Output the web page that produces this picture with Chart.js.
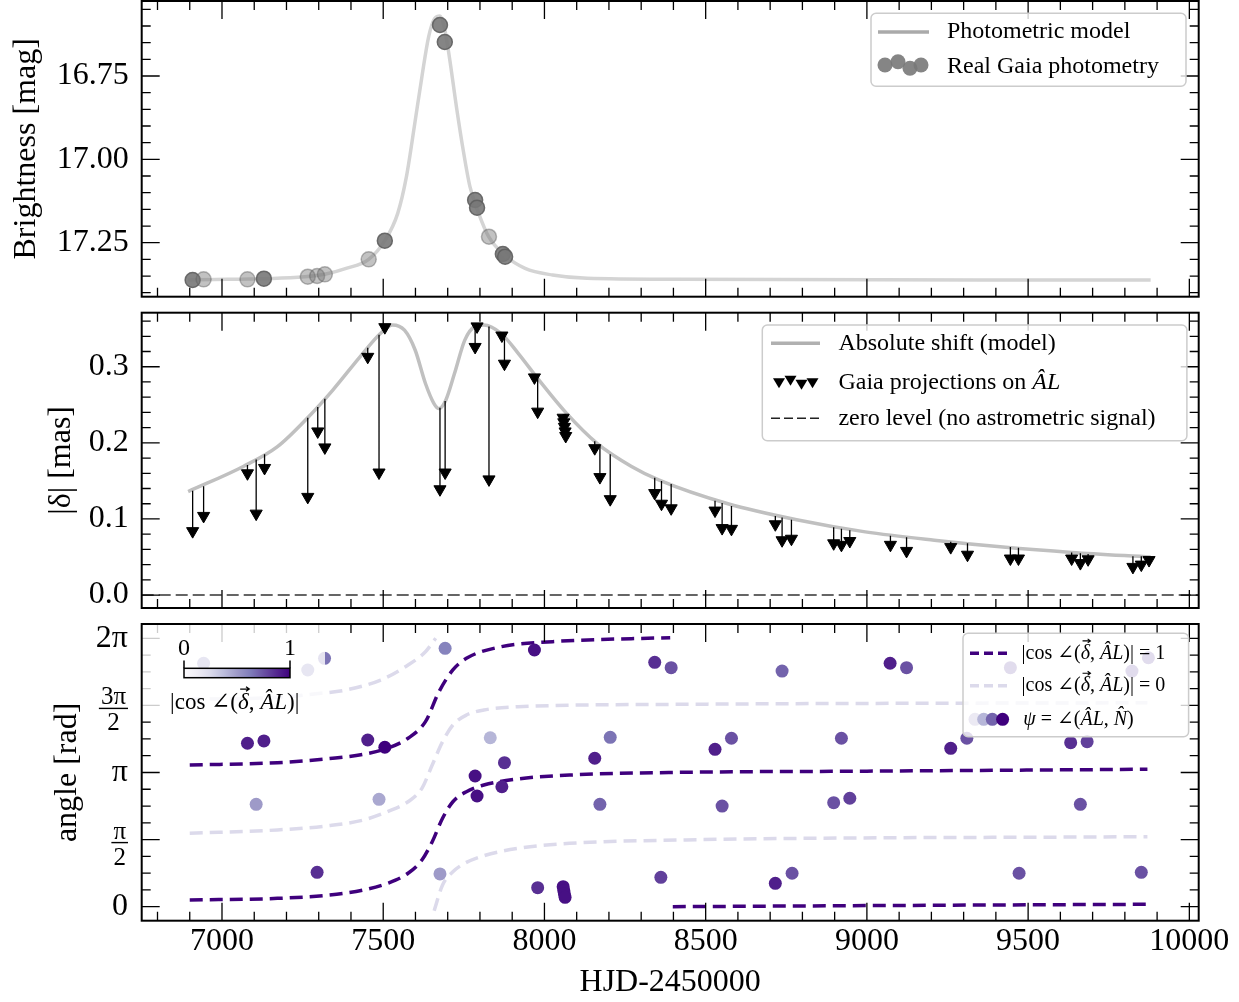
<!DOCTYPE html>
<html lang="en">
<head>
<meta charset="UTF-8">
<title>Microlensing event: photometry and astrometric shift</title>
<script src="https://cdn.jsdelivr.net/npm/chart.js"></script>
<style>
body { margin: 0; background: #fff; }
#wrap { position: relative; width: 1239px; height: 1002px; }
canvas { position: absolute; left: 0; }
</style>
</head>
<body>
<div id="wrap">
  <canvas id="photChart" style="top:0px" width="1239" height="300"></canvas>
  <canvas id="shiftChart" style="top:300px" width="1239" height="312"></canvas>
  <canvas id="angleChart" style="top:612px" width="1239" height="390"></canvas>
</div>
<script>
// shared time axis (HJD-2450000)
const xMin = 6751, xMax = 10029;
const xTicks = [7000, 7500, 8000, 8500, 9000, 9500, 10000];

// --- panel 1: photometry ---
const photModelT = [6895, 7257, 7322, 7385, 7455, 7505, 7545, 7572, 7598, 7620, 7641, 7660, 7676, 7689, 7705, 7727, 7748, 7769, 7796, 7827, 7876, 7940, 8025, 8132, 8418, 9880];
const photModelMag = [17.362, 17.352, 17.344, 17.327, 17.300, 17.244, 17.162, 17.052, 16.892, 16.752, 16.632, 16.577, 16.570, 16.602, 16.692, 16.842, 16.972, 17.082, 17.162, 17.232, 17.287, 17.327, 17.347, 17.357, 17.360, 17.362];
const photT = [6909, 6943, 7079, 7130, 7266, 7295, 7319, 7455, 7505, 7676, 7691, 7785, 7791, 7828, 7871, 7878];
const photMag = [17.362, 17.360, 17.360, 17.358, 17.352, 17.350, 17.345, 17.300, 17.244, 16.597, 16.648, 17.122, 17.145, 17.232, 17.284, 17.292];
const photWeight = [0.9, 0.45, 0.45, 0.9, 0.45, 0.45, 0.45, 0.45, 0.9, 0.9, 0.9, 0.9, 0.9, 0.45, 0.9, 0.9];

// --- panel 2: astrometric shift ---
const shiftModelT = [6895, 7066, 7172, 7268, 7343, 7428, 7492, 7529, 7566, 7599, 7631, 7657, 7673, 7694, 7721, 7753, 7785, 7812, 7865, 7918, 7982, 8068, 8164, 8270, 8356, 8569, 8782, 8995, 9209, 9422, 9635, 9880];
const shiftModelMas = [0.136, 0.169, 0.195, 0.234, 0.269, 0.313, 0.344, 0.355, 0.348, 0.322, 0.278, 0.252, 0.245, 0.256, 0.291, 0.335, 0.353, 0.355, 0.344, 0.318, 0.283, 0.239, 0.199, 0.169, 0.151, 0.120, 0.099, 0.083, 0.072, 0.063, 0.056, 0.050];
const projT = [6909, 6943, 7079, 7106, 7132, 7266, 7297, 7319, 7452, 7487, 7505, 7676, 7692, 7785, 7791, 7828, 7868, 7876, 7969, 7979, 8058, 8060, 8062, 8064, 8066, 8156, 8172, 8204, 8342, 8363, 8393, 8529, 8551, 8580, 8716, 8737, 8766, 8897, 8921, 8947, 9073, 9123, 9260, 9312, 9445, 9470, 9635, 9662, 9686, 9825, 9851, 9875];
const projMas = [0.084, 0.104, 0.160, 0.107, 0.167, 0.129, 0.215, 0.194, 0.313, 0.161, 0.352, 0.139, 0.161, 0.326, 0.353, 0.152, 0.341, 0.304, 0.286, 0.241, 0.233, 0.227, 0.221, 0.215, 0.209, 0.193, 0.155, 0.126, 0.134, 0.120, 0.114, 0.111, 0.088, 0.087, 0.093, 0.072, 0.074, 0.068, 0.066, 0.071, 0.066, 0.058, 0.063, 0.053, 0.048, 0.048, 0.048, 0.042, 0.047, 0.037, 0.040, 0.046];
const projTop = [0.137, 0.143, 0.171, 0.178, 0.185, 0.233, 0.247, 0.258, 0.325, 0.342, 0.350, 0.246, 0.255, 0.353, 0.354, 0.353, 0.343, 0.340, 0.290, 0.285, 0.238, 0.238, 0.238, 0.238, 0.238, 0.202, 0.196, 0.185, 0.154, 0.150, 0.146, 0.124, 0.121, 0.117, 0.104, 0.102, 0.099, 0.089, 0.087, 0.085, 0.078, 0.076, 0.070, 0.068, 0.063, 0.062, 0.056, 0.055, 0.054, 0.051, 0.051, 0.050];

// --- panel 3: angles, in units of pi ---
const cosOneLowT = [6900, 7172, 7332, 7439, 7513, 7577, 7620, 7652, 7684, 7716, 7758, 7812, 7918, 8078, 8418, 9000, 9870];
const cosOneLowPi = [0.050, 0.062, 0.087, 0.124, 0.174, 0.249, 0.348, 0.484, 0.659, 0.782, 0.857, 0.907, 0.952, 0.981, 1.001, 1.010, 1.024];
const cosOneHighT = [6900, 7172, 7343, 7439, 7513, 7577, 7631, 7673, 7716, 7758, 7865, 8025, 8390];
const cosOneHighPi = [1.056, 1.073, 1.106, 1.136, 1.180, 1.255, 1.379, 1.602, 1.764, 1.851, 1.937, 1.975, 2.005];
const cosOneWrapT = [8398, 8995, 9870];
const cosOneWrapPi = [0.000, 0.008, 0.018];
const cosZeroTopT = [6900, 7172, 7306, 7385, 7492, 7577, 7631, 7663];
const cosZeroTopPi = [1.545, 1.560, 1.590, 1.615, 1.689, 1.801, 1.900, 2.000];
const cosZeroMidT = [6900, 7172, 7332, 7439, 7513, 7577, 7620, 7652, 7684, 7716, 7758, 7812, 7918, 8418, 9870];
const cosZeroMidPi = [0.547, 0.572, 0.604, 0.646, 0.708, 0.782, 0.882, 1.056, 1.229, 1.354, 1.428, 1.466, 1.490, 1.508, 1.520];
const cosZeroLowT = [7658, 7684, 7716, 7758, 7812, 7918, 8078, 8418, 9870];
const cosZeroLowPi = [-0.030, 0.162, 0.260, 0.330, 0.380, 0.435, 0.472, 0.497, 0.522];
const psiT = [6943, 7079, 7106, 7130, 7266, 7295, 7318, 7452, 7487, 7505, 7676, 7692, 7785, 7791, 7832, 7868, 7876, 7969, 7979, 8058, 8060, 8062, 8064, 8156, 8172, 8204, 8342, 8361, 8393, 8529, 8551, 8580, 8716, 8737, 8768, 8897, 8921, 8947, 9072, 9123, 9260, 9310, 9445, 9472, 9632, 9662, 9683, 9822, 9851, 9873];
const psiPi = [1.814, 1.218, 0.763, 1.235, 1.764, 0.256, 1.851, 1.242, 0.800, 1.188, 0.244, 1.925, 0.974, 0.825, 1.259, 0.894, 1.073, 1.913, 0.142, 0.149, 0.120, 0.095, 0.070, 1.106, 0.763, 1.262, 1.821, 0.219, 1.781, 1.173, 0.750, 1.255, 0.174, 1.756, 0.249, 0.775, 1.255, 0.808, 1.814, 1.781, 1.180, 1.255, 1.781, 0.249, 1.222, 0.763, 1.230, 1.756, 0.256, 1.855];
const psiCos = [0.6, 0.9, 0.5, 0.9, 0.6, 0.85, 0.65, 0.9, 0.45, 1.0, 0.5, 0.6, 0.95, 0.95, 0.4, 0.9, 0.85, 0.95, 0.85, 0.95, 0.95, 0.95, 0.95, 0.9, 0.7, 0.65, 0.85, 0.8, 0.75, 0.9, 0.75, 0.75, 0.9, 0.7, 0.75, 0.75, 0.75, 0.8, 0.9, 0.75, 0.9, 0.75, 0.75, 0.75, 0.85, 0.75, 0.8, 0.75, 0.75, 0.75];
const piTickVals = [0, 0.5, 1, 1.5, 2];
const piTickNum = ['0', 'π', 'π', '3π', '2π'];
const piTickDen = ['', '2', '', '2', ''];

const SERIF = '"Liberation Serif", "DejaVu Serif", serif';
const PURPLES = ['#fcfbfd', '#efedf5', '#dadaeb', '#bcbddc', '#9e9ac8', '#807dba', '#6a51a3', '#54278f', '#3f007d'];
const DARK_LINE = '#3f007d', LIGHT_LINE = '#dcdaeb';

function purple(v) {
  const f = Math.max(0, Math.min(1, v)) * (PURPLES.length - 1);
  const i = Math.min(PURPLES.length - 2, Math.floor(f));
  const t = f - i;
  const a = PURPLES[i], b = PURPLES[i + 1];
  const c = [1, 3, 5].map(k => Math.round(parseInt(a.substr(k, 2), 16) * (1 - t) + parseInt(b.substr(k, 2), 16) * t));
  return 'rgb(' + c.join(',') + ')';
}

const pts = (xs, ys) => xs.map((x, i) => ({ x: x, y: ys[i] }));

// draws text made of upright / italic pieces; a third flag puts a vector arrow on top
function drawRuns(ctx, x, y, runs, size) {
  ctx.textBaseline = 'middle';
  ctx.textAlign = 'left';
  ctx.fillStyle = '#000';
  for (const [txt, ital, vec] of runs) {
    ctx.font = (ital ? 'italic ' : '') + size + 'px ' + SERIF;
    ctx.fillText(txt, x, y);
    const w = ctx.measureText(txt).width;
    if (vec) {
      const ay = y - size * 0.62, x0 = x + w * 0.2, x1 = x + w * 1.05;
      ctx.save();
      ctx.strokeStyle = '#000'; ctx.lineWidth = Math.max(1, size / 18);
      ctx.beginPath(); ctx.moveTo(x0, ay); ctx.lineTo(x1, ay);
      ctx.moveTo(x1 - size * 0.14, ay - size * 0.1); ctx.lineTo(x1, ay); ctx.lineTo(x1 - size * 0.14, ay + size * 0.1);
      ctx.stroke(); ctx.restore();
    }
    x += w;
  }
  return x;
}
function runsWidth(ctx, runs, size) {
  let w = 0;
  runs.forEach(([t, it]) => { ctx.font = (it ? 'italic ' : '') + size + 'px ' + SERIF; w += ctx.measureText(t).width; });
  return w;
}

function legendBox(ctx, x, y, w, h) {
  ctx.save();
  ctx.beginPath();
  ctx.roundRect(x, y, w, h, 5);
  ctx.fillStyle = 'rgba(255,255,255,0.8)';
  ctx.fill();
  ctx.strokeStyle = '#cccccc';
  ctx.lineWidth = 1.5;
  ctx.stroke();
  ctx.restore();
}

// inward ticks on all four sides + frame, then extra drawings
function frame(steps, under, over) {
  return {
    id: 'frame',
    afterDatasetsDraw(chart) {
      const { ctx, chartArea: a } = chart;
      const xs = chart.scales.x, ys = chart.scales.y;
      const each = (scale, step, fn) => {
        const first = Math.ceil(scale.min / step - 1e-6), last = Math.floor(scale.max / step + 1e-6);
        for (let k = first; k <= last; k++) fn(scale.getPixelForValue(k * step));
      };
      ctx.save();
      ctx.strokeStyle = '#000';
      ctx.lineWidth = 1.3;
      ctx.beginPath();
      [[100, 9], [500, 18]].forEach(([s, len]) => each(xs, s, px => {
        ctx.moveTo(px, a.bottom); ctx.lineTo(px, a.bottom - len);
        ctx.moveTo(px, a.top); ctx.lineTo(px, a.top + len);
      }));
      [[steps[1], 9], [steps[0], 18]].forEach(([s, len]) => each(ys, s, py => {
        ctx.moveTo(a.left, py); ctx.lineTo(a.left + len, py);
        ctx.moveTo(a.right, py); ctx.lineTo(a.right - len, py);
      }));
      ctx.stroke();
      ctx.restore();
      if (under) under(chart);
      ctx.save();
      ctx.lineWidth = 2;
      ctx.strokeStyle = '#000';
      ctx.strokeRect(a.left, a.top, a.width, a.height);
      ctx.restore();
      if (over) over(chart);
    }
  };
}

function yAxis(min, max, step, fmt, title, titlePad, reverse) {
  return {
    min: min, max: max, reverse: !!reverse,
    afterFit: s => { s.width = 141.7; s.paddingTop = 0; s.paddingBottom = 0; },
    grid: { display: false, drawTicks: false },
    border: { display: false },
    ticks: { display: fmt !== null, stepSize: step, includeBounds: false, padding: 13, color: '#000',
      font: { family: SERIF, size: 32 }, callback: v => fmt ? fmt(v) : '' },
    title: { display: true, text: title, color: '#000', font: { family: SERIF, size: 32, lineHeight: 1.2 },
      padding: { top: titlePad, bottom: 0 } }
  };
}
const hiddenX = { type: 'linear', min: xMin, max: xMax, display: false };
const common = {
  responsive: false, animation: false, events: [],
  plugins: { legend: { display: false }, tooltip: { enabled: false } }
};

// ---------- panel 1 ----------
new Chart(document.getElementById('photChart'), {
  type: 'scatter',
  data: { datasets: [
    { type: 'line', data: pts(photModelT, photModelMag), borderColor: '#d4d4d4', borderWidth: 3.5,
      pointRadius: 0, cubicInterpolationMode: 'monotone', order: 2 },
    { data: pts(photT, photMag), pointRadius: 7.5,
      backgroundColor: photWeight.map(w => 'rgba(120,120,120,' + w + ')'),
      borderColor: photWeight.map(w => 'rgba(95,95,95,' + w + ')'), borderWidth: 1.5, order: 1 }
  ] },
  options: Object.assign({}, common, {
    layout: { autoPadding: false, padding: { left: 0, right: 40.3, top: 1, bottom: 3.3 } },
    scales: { x: hiddenX, y: yAxis(16.525, 17.412, 0.25, v => v.toFixed(2), 'Brightness [mag]', 7.8, true) }
  }),
  plugins: [frame([0.25, 0.05], null, chart => {
    const ctx = chart.ctx;
    legendBox(ctx, 871, 13.3, 315, 73);
    ctx.save();
    ctx.strokeStyle = '#aaaaaa'; ctx.lineWidth = 3.5;
    ctx.beginPath(); ctx.moveTo(878, 32); ctx.lineTo(929, 32); ctx.stroke();
    [[885, 65], [898, 61.7], [910, 68.3], [921, 65]].forEach(([x, y]) => {
      ctx.beginPath(); ctx.arc(x, y, 7.5, 0, Math.PI * 2);
      ctx.fillStyle = 'rgba(120,120,120,0.9)'; ctx.fill();
    });
    drawRuns(ctx, 947, 32, [['Photometric model', false]], 24);
    drawRuns(ctx, 947, 66.7, [['Real Gaia photometry', false]], 24);
    ctx.restore();
  })]
});

// ---------- panel 2 ----------
const stems = [];
projT.forEach((t, i) => { stems.push({ x: t, y: projTop[i] }, { x: t, y: projMas[i] }, { x: t, y: null }); });

new Chart(document.getElementById('shiftChart'), {
  type: 'scatter',
  data: { datasets: [
    { type: 'line', data: [{ x: xMin, y: 0 }, { x: xMax, y: 0 }], borderColor: '#333333', borderWidth: 1.6,
      borderDash: [12, 5], pointRadius: 0, order: 4 },
    { type: 'line', data: pts(shiftModelT, shiftModelMas), borderColor: '#c0c0c0', borderWidth: 3.5,
      pointRadius: 0, cubicInterpolationMode: 'monotone', order: 3 },
    { type: 'line', data: stems, borderColor: '#000', borderWidth: 1.3, pointRadius: 0, spanGaps: false, order: 2 },
    { data: pts(projT, projMas), pointStyle: 'triangle', rotation: 180, pointRadius: 7,
      backgroundColor: '#000', borderColor: '#000', borderWidth: 1, order: 1 }
  ] },
  options: Object.assign({}, common, {
    layout: { autoPadding: false, padding: { left: 0, right: 40.3, top: 12.7, bottom: 4 } },
    scales: { x: hiddenX, y: yAxis(-0.017, 0.371, 0.1, v => v.toFixed(1), '|δ| [mas]', 42.8, false) }
  }),
  plugins: [frame([0.1, 0.02], null, chart => {
    const ctx = chart.ctx;
    legendBox(ctx, 762.3, 25, 424.6, 115.7);
    ctx.save();
    ctx.strokeStyle = '#b0b0b0'; ctx.lineWidth = 3.5;
    ctx.beginPath(); ctx.moveTo(771, 43.3); ctx.lineTo(820, 43.3); ctx.stroke();
    ctx.fillStyle = '#000';
    [[779, 81.7], [790.5, 79.3], [801.5, 83.3], [812.5, 81.7]].forEach(([x, y]) => {
      ctx.beginPath(); ctx.moveTo(x - 6, y - 3.5); ctx.lineTo(x + 6, y - 3.5); ctx.lineTo(x, y + 6.5); ctx.closePath(); ctx.fill();
    });
    ctx.strokeStyle = '#222'; ctx.lineWidth = 1.6; ctx.setLineDash([9, 4]);
    ctx.beginPath(); ctx.moveTo(771, 118.3); ctx.lineTo(820, 118.3); ctx.stroke();
    ctx.setLineDash([]);
    drawRuns(ctx, 838.4, 43.3, [['Absolute shift (model)', false]], 24);
    drawRuns(ctx, 838.4, 83, [['Gaia projections on ', false], ['ÂL', true]], 24);
    drawRuns(ctx, 838.4, 118.3, [['zero level (no astrometric signal)', false]], 24);
    ctx.restore();
  })]
});

// ---------- panel 3 ----------
const dashLine = (xs, ys, color) => ({ type: 'line', data: pts(xs, ys), borderColor: color, borderWidth: 3.5,
  borderDash: [13, 7], pointRadius: 0, cubicInterpolationMode: 'monotone', order: 2 });
const cosRuns = [['|cos ∠(', false], ['δ', true, true], [', ', false], ['ÂL', true], [')|', false]];

new Chart(document.getElementById('angleChart'), {
  type: 'scatter',
  data: { datasets: [
    dashLine(cosZeroTopT, cosZeroTopPi, LIGHT_LINE),
    dashLine(cosZeroMidT, cosZeroMidPi, LIGHT_LINE),
    dashLine(cosZeroLowT, cosZeroLowPi, LIGHT_LINE),
    dashLine(cosOneLowT, cosOneLowPi, DARK_LINE),
    dashLine(cosOneHighT, cosOneHighPi, DARK_LINE),
    dashLine(cosOneWrapT, cosOneWrapPi, DARK_LINE),
    { data: pts(psiT, psiPi), pointRadius: 6.5, backgroundColor: psiCos.map(purple),
      borderWidth: 0, order: 1 }
  ] },
  options: Object.assign({}, common, {
    layout: { autoPadding: false, padding: { left: 0, right: 40.3, top: 12, bottom: 0 } },
    scales: {
      x: { type: 'linear', min: xMin, max: xMax, position: 'bottom',
        afterFit: s => { s.height = 81.3; },
        afterBuildTicks: s => { s.ticks = xTicks.map(v => ({ value: v })); },
        grid: { display: false, drawTicks: false }, border: { display: false },
        ticks: { padding: 2, color: '#000', maxRotation: 0, autoSkip: false, font: { family: SERIF, size: 32 },
          callback: v => String(v) },
        title: { display: true, text: 'HJD-2450000', color: '#000', font: { family: SERIF, size: 32, lineHeight: 1.2 },
          padding: { top: 0, bottom: 0 } } },
      y: yAxis(-0.1044, 2.1066, 0.5, null, 'angle [rad]', 48.8, false)
    }
  }),
  plugins: [frame([0.5, 0.125], chart => {
    // colour-bar inset
    const ctx = chart.ctx;
    ctx.save();
    ctx.fillStyle = 'rgba(255,255,255,0.8)';
    ctx.fillRect(142, 12, 183, 92);
    const g = ctx.createLinearGradient(184, 0, 290, 0);
    PURPLES.forEach((c, i) => g.addColorStop(i / (PURPLES.length - 1), c));
    ctx.fillStyle = g;
    ctx.fillRect(184, 56.3, 106, 9.4);
    ctx.strokeStyle = '#000'; ctx.lineWidth = 1.5;
    ctx.strokeRect(184, 56.3, 106, 9.4);
    ctx.beginPath(); ctx.moveTo(184, 56.3); ctx.lineTo(184, 48.5); ctx.moveTo(290, 56.3); ctx.lineTo(290, 48.5); ctx.stroke();
    ctx.font = '24px ' + SERIF; ctx.textAlign = 'center'; ctx.textBaseline = 'middle'; ctx.fillStyle = '#000';
    ctx.fillText('0', 184, 36.5);
    ctx.fillText('1', 290, 36.5);
    ctx.restore();
    ctx.save();
    const w = runsWidth(ctx, cosRuns, 23);
    drawRuns(ctx, 234.7 - w / 2, 91.3, cosRuns, 23);
    ctx.restore();
  }, chart => {
    const ctx = chart.ctx, ys = chart.scales.y, a = chart.chartArea;
    // pi tick labels
    ctx.save();
    ctx.fillStyle = '#000';
    const right = a.left - 13.7;
    piTickVals.forEach((v, i) => {
      const py = ys.getPixelForValue(v);
      if (!piTickDen[i]) {
        ctx.font = '32px ' + SERIF; ctx.textAlign = 'right'; ctx.textBaseline = 'middle';
        ctx.fillText(piTickNum[i], right, py);
      } else {
        ctx.font = '25px ' + SERIF;
        const wn = ctx.measureText(piTickNum[i]).width, wd = ctx.measureText(piTickDen[i]).width;
        const bw = Math.max(wn, wd) + 4, cx = right - bw / 2, by = py + 3;
        ctx.fillRect(right - bw, by - 0.7, bw, 1.4);
        ctx.textAlign = 'center';
        ctx.textBaseline = 'alphabetic';
        ctx.fillText(piTickNum[i], cx, by - 4);
        ctx.textBaseline = 'top';
        ctx.fillText(piTickDen[i], cx, by + 3);
      }
    });
    // legend
    legendBox(ctx, 963, 21.3, 225.6, 103.4);
    ctx.lineWidth = 3.5; ctx.setLineDash([9, 5]);
    ctx.strokeStyle = DARK_LINE;
    ctx.beginPath(); ctx.moveTo(970, 41.3); ctx.lineTo(1008, 41.3); ctx.stroke();
    ctx.strokeStyle = LIGHT_LINE;
    ctx.beginPath(); ctx.moveTo(970, 73.7); ctx.lineTo(1008, 73.7); ctx.stroke();
    ctx.setLineDash([]);
    [[975, 0.15], [983.7, 0.4], [992.3, 0.7], [1002.6, 1.0]].forEach(([x, c]) => {
      ctx.beginPath(); ctx.arc(x, 107.3, 6.5, 0, Math.PI * 2); ctx.fillStyle = purple(c); ctx.fill();
    });
    drawRuns(ctx, 1021.6, 41.3, cosRuns.concat([[' = 1', false]]), 20);
    drawRuns(ctx, 1021.6, 73.7, cosRuns.concat([[' = 0', false]]), 20);
    drawRuns(ctx, 1023.3, 107.3, [['ψ', true], [' = ∠(', false], ['ÂL', true], [', ', false], ['N\u0302', true], [')', false]], 20);
    ctx.restore();
  })]
});
</script>
</body>
</html>
